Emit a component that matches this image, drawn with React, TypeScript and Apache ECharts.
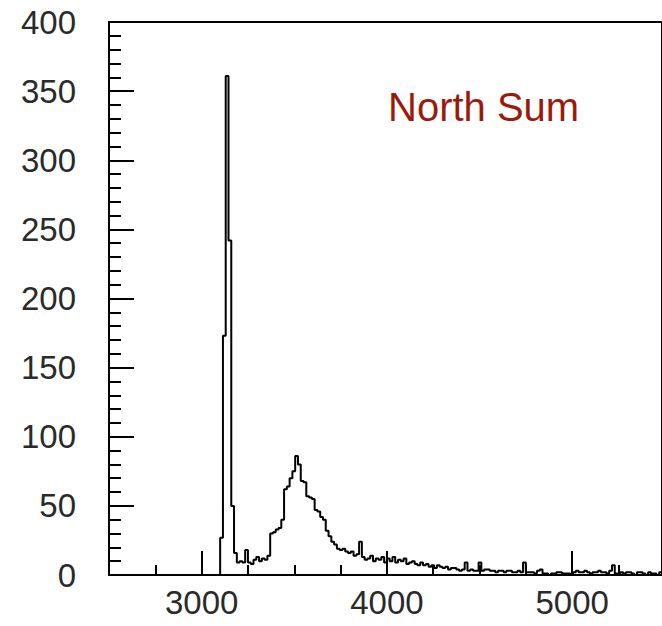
import React, { useEffect, useRef } from "react";
import * as echarts from "echarts";

const binStart = 2500;
const binWidth = 15;
// counts per 15-unit bin, from 2500 upward (199 bins)
const counts: number[] = [
  // 2500-3085: empty
  0, 0, 0, 0, 0, 0, 0, 0, 0, 0,
  0, 0, 0, 0, 0, 0, 0, 0, 0, 0,
  0, 0, 0, 0, 0, 0, 0, 0, 0, 0,
  0, 0, 0, 0, 0, 0, 0, 0, 0, 0,
  // 40-49
  27, 173, 361, 242, 50, 16, 9, 10, 9, 18,
  // 50-59
  9, 8, 11, 13, 10, 12, 11, 14, 30, 31,
  // 60-69
  33, 34, 40, 62, 64, 70, 75, 86, 80, 68,
  // 70-79
  67, 57, 56, 55, 47, 46, 42, 40, 32, 28,
  // 80-89
  24, 22, 19, 18, 19, 17, 16, 17, 14, 15,
  // 90-99
  24, 13, 11, 12, 14, 10, 12, 11, 13, 9,
  // 100-109
  12, 10, 13, 9, 11, 10, 12, 8, 9, 10,
  // 110-119
  8, 7, 9, 7, 8, 6, 7, 5, 7, 6,
  // 120-129
  5, 6, 4, 5, 5, 4, 3, 4, 9, 3,
  // 130-139
  4, 3, 3, 9, 3, 4, 4, 3, 3, 2,
  // 140-149
  3, 3, 2, 3, 3, 2, 2, 3, 2, 9,
  // 150-159
  2, 2, 2, 1, 3, 4, 1, 1, 0, 1,
  // 160-169
  1, 2, 2, 1, 1, 1, 0, 2, 3, 2,
  // 170-179
  2, 3, 2, 1, 2, 2, 3, 2, 2, 1,
  // 180-189
  3, 7, 1, 0, 2, 1, 2, 2, 1, 0,
  // 190-199
  2, 2, 1, 0, 2, 1, 1, 0, 2, 1,
];

const xLabelValues = [3000, 4000, 5000];
const title = "North Sum";

export default function App() {
  const ref = useRef<HTMLDivElement>(null);
  useEffect(() => {
    if (!ref.current) return;
    const chart = echarts.init(ref.current, null, { renderer: "svg" });
    const histData: [number, number][] = counts.map((c, i) => [binStart + i * binWidth, c]);
    histData.push([binStart + counts.length * binWidth, counts[counts.length - 1]]);
    const font = "Liberation Sans";
    chart.setOption({
      animation: false,
      backgroundColor: "#ffffff",
      grid: {
        left: 109,
        right: 0,
        top: 22,
        bottom: 51,
        show: true,
        borderColor: "#000",
        borderWidth: 2,
      },
      xAxis: [
        {
          type: "value",
          position: "bottom",
          min: 2500,
          max: 5485,
          interval: 250,
          axisLine: { show: true, onZero: false, lineStyle: { color: "#000", width: 2 } },
          axisTick: { show: true, inside: true, length: 10, lineStyle: { color: "#000", width: 2 } },
          axisLabel: { show: false },
          splitLine: { show: false },
        },
        {
          type: "value",
          position: "bottom",
          min: 2500,
          max: 5485,
          axisLine: { show: false },
          axisTick: {
            show: true,
            inside: true,
            length: 24,
            customValues: xLabelValues,
            lineStyle: { color: "#000", width: 2 },
          },
          axisLabel: {
            show: true,
            customValues: xLabelValues,
            formatter: (v: number) => String(v),
            margin: 11,
            fontFamily: font,
            fontSize: 33,
            color: "#2a2a2a",
          },
          splitLine: { show: false },
        },
      ],
      yAxis: {
        type: "value",
        min: 0,
        max: 400,
        interval: 50,
        axisLine: { show: true, lineStyle: { color: "#000", width: 2 } },
        axisTick: { show: true, inside: true, length: 25, lineStyle: { color: "#000", width: 2 } },
        minorTick: { show: true, splitNumber: 5, length: 12, lineStyle: { color: "#000", width: 2 } },
        axisLabel: {
          margin: 33,
          formatter: (v: number) => String(v),
          fontFamily: font,
          fontSize: 33,
          color: "#2a2a2a",
        },
        splitLine: { show: false },
      },
      graphic: [
        {
          type: "text",
          left: 388,
          top: 87,
          style: {
            text: title,
            font: "40px 'Liberation Sans'",
            fill: "#9a1b0c",
          },
        },
      ],
      series: [
        {
          type: "line",
          xAxisIndex: 0,
          data: histData,
          step: "end",
          symbol: "none",
          lineStyle: { color: "#000", width: 2 },
        },
      ],
    });
    return () => chart.dispose();
  }, []);
  return (
    <div
      ref={ref}
      style={{ position: "fixed", left: 0, top: 0, width: 662, height: 626, background: "#fff" }}
    />
  );
}
